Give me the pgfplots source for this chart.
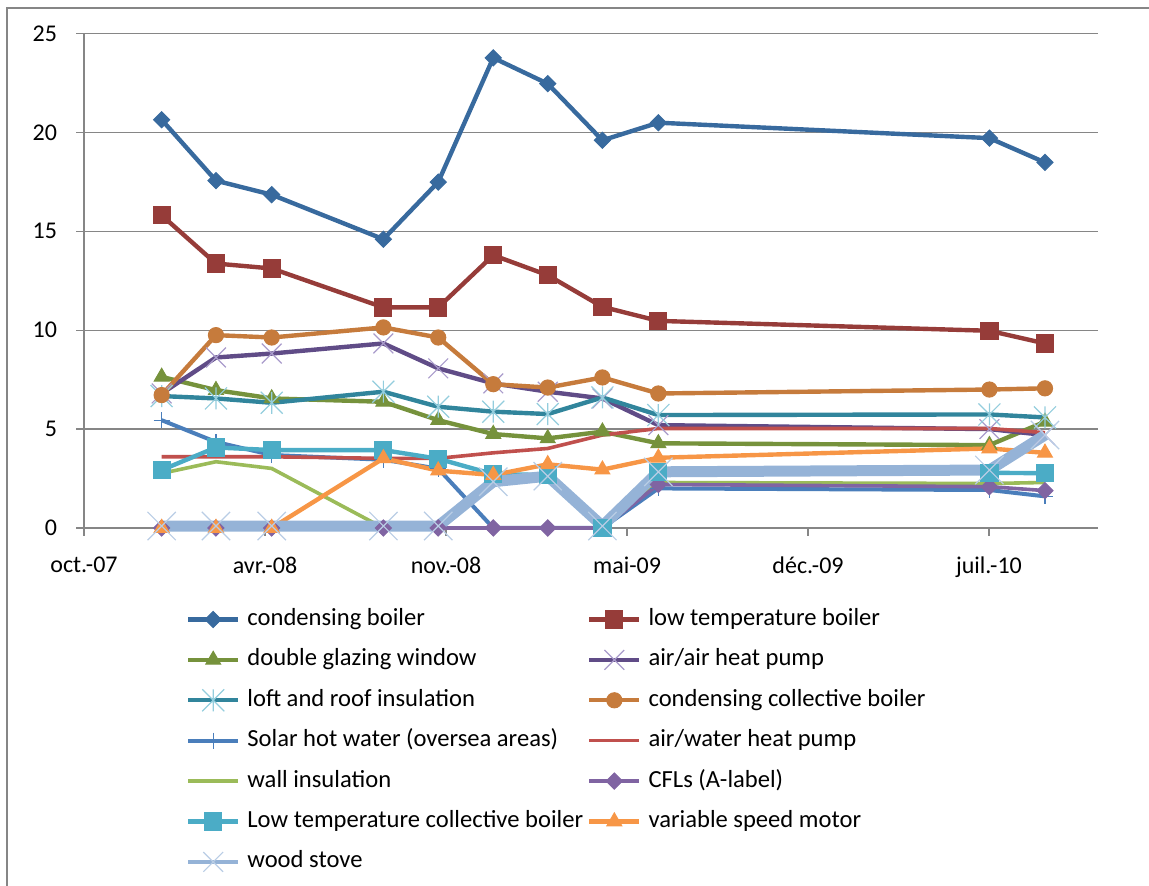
\documentclass[border=0pt]{standalone}
\usepackage{fontspec}
\setmainfont{Carlito}
\usepackage{pgfplots}
\pgfplotsset{compat=1.18}

\definecolor{gridgray}{HTML}{868686}
\definecolor{cCond}{HTML}{386A9E}
\definecolor{cLowT}{HTML}{963C39}
\definecolor{cGlaz}{HTML}{76923C}
\definecolor{cAirA}{HTML}{604C87}
\definecolor{cAirAm}{HTML}{A99BCB}
\definecolor{cLoft}{HTML}{31859C}
\definecolor{cLoftm}{HTML}{93CDDD}
\definecolor{cCColl}{HTML}{C67B3C}
\definecolor{cSolar}{HTML}{4A7EBB}
\definecolor{cAirW}{HTML}{C0504D}
\definecolor{cWall}{HTML}{9BBB59}
\definecolor{cCFL}{HTML}{8064A2}
\definecolor{cLTColl}{HTML}{4BACC6}
\definecolor{cSpeed}{HTML}{F79646}
\definecolor{cWood}{HTML}{95B3D7}
\definecolor{cWoodm}{HTML}{B9CDE5}

% Excel-like star: an x with a vertical bar
\pgfdeclareplotmark{xstar}{%
  \pgfpathmoveto{\pgfpoint{-\pgfplotmarksize}{-\pgfplotmarksize}}%
  \pgfpathlineto{\pgfpoint{\pgfplotmarksize}{\pgfplotmarksize}}%
  \pgfpathmoveto{\pgfpoint{-\pgfplotmarksize}{\pgfplotmarksize}}%
  \pgfpathlineto{\pgfpoint{\pgfplotmarksize}{-\pgfplotmarksize}}%
  \pgfpathmoveto{\pgfpoint{0pt}{-\pgfplotmarksize}}%
  \pgfpathlineto{\pgfpoint{0pt}{\pgfplotmarksize}}%
  \pgfusepathqstroke}

\begin{document}
\begin{tikzpicture}
\useasboundingbox (0pt,0pt) rectangle (574.5pt,443pt);
\draw[gridgray, line width=1pt] (3.5pt,0pt) -- (3.5pt,439pt) -- (574.5pt,439pt);
\begin{axis}[
  at={(42pt,179pt)}, anchor=south west,
  scale only axis, width=507pt, height=247.25pt,
  xmin=0, xmax=5.602, ymin=0, ymax=25,
  axis x line*=bottom, axis y line*=left,
  axis line style={gridgray, line width=0.6pt},
  xtick={0,1,2,3,4,5},
  xticklabels={oct.-07,avr.-08,nov.-08,mai-09,déc.-09,juil.-10},
  ytick={0,5,10,15,20,25},
  ymajorgrids, grid style={gridgray, line width=0.6pt},
  tick align=outside, major tick length=4pt,
  tick style={gridgray, line width=0.6pt},
  ticklabel style={font=\fontsize{12}{14}\selectfont, text=black},
  xticklabel style={yshift=-7pt},
  yticklabel style={xshift=-6pt},
  /pgf/number format/assume math mode=true,
  clip=false,
  legend columns=2,
  legend cell align=left,
  legend style={at={(0.1006,-0.1547)}, anchor=north west, draw=none, fill=none,
    inner sep=0pt, outer sep=0pt, row sep=5.2pt,
    font=\fontsize{12.3}{14}\selectfont,
    nodes={text height=8.5pt, text depth=2.5pt, inner sep=2pt},
    /tikz/every odd column/.append style={column sep=1.5pt},
    /tikz/every even column/.append style={column sep=0pt}},
  legend image code/.code={\draw[mark repeat=2,mark phase=2,#1] plot coordinates {(0pt,0pt)(12.5pt,0pt)(25pt,0pt)};},
]
% condensing boiler
\addplot[cCond, line width=2.2pt, mark=square*, mark size=2.85pt,
  mark options={solid, rotate=45, line width=0.5pt, fill=cCond}]
  coordinates {(0.429,20.64)(0.729,17.56)(1.037,16.85)(1.654,14.6)(1.957,17.49)(2.261,23.77)(2.562,22.46)(2.864,19.6)(3.173,20.49)(5.002,19.71)(5.309,18.48)};
\addlegendentry{condensing boiler}
% low temperature boiler
\addplot[cLowT, line width=2.2pt, mark=square*, mark size=4.3pt,
  mark options={solid, line width=0.5pt, fill=cLowT}]
  coordinates {(0.429,15.81)(0.729,13.37)(1.037,13.12)(1.654,11.15)(1.957,11.15)(2.261,13.79)(2.562,12.78)(2.864,11.18)(3.173,10.47)(5.002,9.97)(5.309,9.33)};
\addlegendentry{low temperature boiler}
% double glazing window
\addplot[cGlaz, line width=2.2pt, mark=triangle*, mark size=4.3pt,
  mark options={solid, line width=0.5pt, fill=cGlaz}]
  coordinates {(0.429,7.64)(0.729,6.97)(1.037,6.55)(1.654,6.38)(1.957,5.45)(2.261,4.75)(2.562,4.53)(2.864,4.87)(3.173,4.28)(5.002,4.19)(5.309,5.37)};
\addlegendentry{double glazing window}
% air/air heat pump
\addplot[cAirA, line width=2.2pt, mark=x, mark size=7pt,
  mark options={solid, line width=0.6pt, draw=cAirAm}]
  coordinates {(0.429,6.8)(0.729,8.62)(1.037,8.82)(1.654,9.33)(1.957,8.07)(2.261,7.31)(2.562,6.89)(2.864,6.55)(3.173,5.2)(5.002,5.0)(5.309,4.7)};
\addlegendentry{air/air heat pump}
% loft and roof insulation
\addplot[cLoft, line width=2.2pt, mark=xstar, mark size=5.5pt,
  mark options={solid, line width=0.6pt, draw=cLoftm}]
  coordinates {(0.429,6.67)(0.729,6.55)(1.037,6.33)(1.654,6.89)(1.957,6.13)(2.261,5.88)(2.562,5.76)(2.864,6.6)(3.173,5.71)(5.002,5.74)(5.309,5.59)};
\addlegendentry{loft and roof insulation}
% condensing collective boiler
\addplot[cCColl, line width=2.2pt, mark=*, mark size=3.8pt,
  mark options={solid, line width=0.5pt, fill=cCColl}]
  coordinates {(0.429,6.72)(0.729,9.75)(1.037,9.63)(1.654,10.14)(1.957,9.63)(2.261,7.27)(2.562,7.1)(2.864,7.61)(3.173,6.8)(5.002,7.0)(5.309,7.06)};
\addlegendentry{condensing collective boiler}
% Solar hot water
\addplot[cSolar, line width=2pt, mark=+, mark size=4pt,
  mark options={solid, line width=0.6pt}]
  coordinates {(0.429,5.45)(0.729,4.35)(1.037,3.69)(1.654,3.45)(1.957,3.0)(2.261,0)(2.562,0)(2.864,0)(3.173,2.0)(5.002,1.92)(5.309,1.6)};
\addlegendentry{Solar hot water (oversea areas)}
% air/water heat pump
\addplot[cAirW, line width=1.8pt]
  coordinates {(0.429,3.6)(0.729,3.6)(1.037,3.6)(1.654,3.52)(1.957,3.52)(2.261,3.8)(2.562,4.02)(2.864,4.7)(3.173,5.03)(5.002,5.03)(5.309,4.82)};
\addlegendentry{air/water heat pump}
% wall insulation
\addplot[cWall, line width=1.8pt]
  coordinates {(0.429,2.76)(0.729,3.35)(1.037,3.01)(1.654,0)(1.957,0)(2.261,0)(2.562,0)(2.864,0)(3.173,2.3)(5.002,2.25)(5.309,2.3)};
\addlegendentry{wall insulation}
% CFLs
\addplot[cCFL, line width=1.8pt, mark=square*, mark size=2.85pt,
  mark options={solid, rotate=45, line width=0.5pt, fill=cCFL}]
  coordinates {(0.429,0)(0.729,0)(1.037,0)(1.654,0)(1.957,0)(2.261,0)(2.562,0)(2.864,0)(3.173,2.2)(5.002,2.09)(5.309,1.89)};
\addlegendentry{CFLs (A-label)}
% Low temperature collective boiler
\addplot[cLTColl, line width=2.2pt, mark=square*, mark size=4.3pt,
  mark options={solid, line width=0.5pt, fill=cLTColl}]
  coordinates {(0.429,2.93)(0.729,4.07)(1.037,3.94)(1.654,3.94)(1.957,3.5)(2.261,2.72)(2.562,2.68)(2.864,0)(3.173,2.84)(5.002,2.79)(5.309,2.77)};
\addlegendentry{Low temperature collective boiler}
% variable speed motor
\addplot[cSpeed, line width=2.2pt, mark=triangle*, mark size=4.3pt,
  mark options={solid, line width=0.5pt, fill=cSpeed}]
  coordinates {(0.429,0)(0.729,0)(1.037,0)(1.654,3.52)(1.957,2.9)(2.261,2.68)(2.562,3.22)(2.864,2.95)(3.173,3.55)(5.002,4.02)(5.309,3.8)};
\addlegendentry{variable speed motor}
% wood stove
\addplot[cWood, line width=5.5pt, mark=x, mark size=10pt, forget plot,
  mark options={solid, line width=0.6pt, draw=cWoodm}]
  coordinates {(0.429,0.1)(0.729,0.1)(1.037,0.1)(1.654,0.1)(1.957,0.1)(2.261,2.34)(2.562,2.62)(2.864,0.1)(3.173,2.84)(5.002,2.93)(5.309,4.7)};
\addlegendimage{cWood, line width=2pt, mark=x, mark size=7pt, mark options={solid, line width=0.6pt, draw=cWoodm}}
\addlegendentry{wood stove}
\end{axis}
\end{tikzpicture}
\end{document}
